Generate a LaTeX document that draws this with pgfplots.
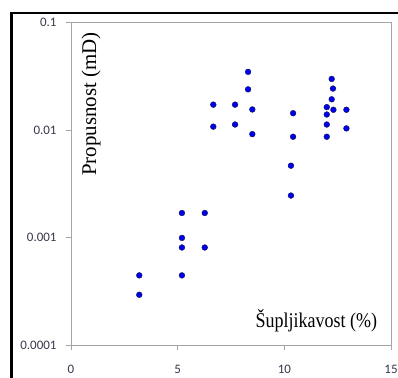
\documentclass[border=0pt]{standalone}
\usepackage{fontspec}
\setmainfont{Liberation Serif}
\newfontfamily\tickfont{Carlito}
\usepackage{pgfplots}
\pgfplotsset{compat=1.18}
\definecolor{tickcol}{RGB}{55,55,75}
\definecolor{axcol}{RGB}{165,165,165}
\definecolor{ptfill}{RGB}{0,0,240}
\definecolor{ptdraw}{RGB}{20,20,80}
\begin{document}
\begin{tikzpicture}[x=1bp,y=1bp]
\useasboundingbox (0,0) rectangle (398,378);
\draw[black, line width=2.2bp] (11.5,0) -- (11.5,365) -- (398,365);
\begin{axis}[
  at={(71bp,32.7bp)}, anchor=south west,
  scale only axis, width=320bp, height=322.6bp,
  xmin=0, xmax=15, ymode=log, ymin=1e-4, ymax=0.1,
  xtick={0,5,10,15},
  xticklabels={0,5,10,15},
  ytick={1e-4,1e-3,1e-2,1e-1},
  yticklabels={0.0001,0.001,0.01,0.1},
  yminorticks=false,
  /pgf/number format/assume math mode=true,
  xtick pos=left, ytick pos=left, tick align=outside,
  major tick length=5bp,
  axis line style={axcol, line width=1bp},
  every tick/.style={axcol, line width=0.8bp},
  xticklabel style={font={\fontsize{13}{14}\selectfont\tickfont}, text=tickcol, yshift=-11bp},
  yticklabel style={font={\fontsize{13}{14}\selectfont\tickfont}, text=tickcol, xshift=-6bp},
  clip=false,
]
\addplot[only marks, mark=*, mark size=2.9bp, mark options={fill=ptfill, draw=ptdraw, line width=0.4bp}] table {
x y
3.20 0.000447
3.20 0.000295
5.20 0.00170
5.20 0.000997
5.20 0.000812
5.20 0.000447
6.27 0.00170
6.27 0.000812
6.67 0.0173
6.67 0.0108
7.69 0.0173
7.69 0.0113
8.30 0.0349
8.30 0.0240
8.50 0.0156
8.50 0.0092
10.41 0.0144
10.41 0.0087
10.31 0.00468
10.31 0.00247
12.22 0.0300
12.28 0.0244
12.22 0.0194
11.99 0.0164
12.30 0.0155
11.99 0.0140
11.99 0.0113
11.99 0.0087
12.91 0.0155
12.91 0.0104
};
\node[rotate=90, font=\fontsize{21}{21}\selectfont] at (rel axis cs:0.0625,0.748) {Propusnost (mD)};
\node[font=\fontsize{21}{21}\selectfont, xscale=0.86] at (rel axis cs:0.767,0.075) {Šupljikavost (\%)};
\end{axis}
\end{tikzpicture}
\end{document}
